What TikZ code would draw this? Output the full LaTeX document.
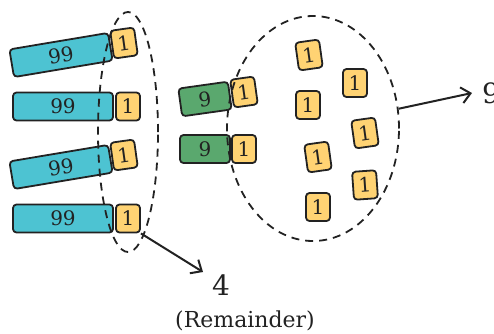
\documentclass[tikz,border=0pt]{standalone}
\usepackage{fontspec}
\setmainfont{DejaVu Serif}
\usetikzlibrary{shapes.geometric,arrows.meta}
\definecolor{cyanbox}{RGB}{77,195,210}
\definecolor{greenbox}{RGB}{90,168,110}
\definecolor{yellowbox}{RGB}{255,211,115}
\definecolor{ink}{RGB}{34,34,34}
\tikzset{
  x=1pt,y=-1pt,
  box/.style={draw=ink,line width=1.8pt,rounded corners=3.5pt,inner sep=0pt,font=\fontsize{20}{22}\selectfont,text=ink},
  cbox/.style={box,fill=cyanbox,minimum width=100pt,minimum height=28pt},
  gbox/.style={box,fill=greenbox,minimum width=50pt,minimum height=28pt},
  ybox/.style={box,fill=yellowbox,minimum width=24pt,minimum height=28pt},
  group/.style={ellipse,draw=ink,line width=1.8pt,dash pattern=on 8pt off 6pt},
  arr/.style={draw=ink,line width=2pt,-{Straight Barb[length=9pt,width=16pt,line width=2pt]}},
  lbl/.style={text=ink,inner sep=0pt}
}
\begin{document}
\begin{tikzpicture}
\useasboundingbox (0,0) rectangle (494,333);
% left column
\node[cbox,rotate=9.5] (c1) at (61,55) {99};
\node[ybox,rotate=8] (y1) at (124,43) {1};
\node[cbox] (c2) at (63,106.5) {99};
\node[ybox] (y2) at (128,106.5) {1};
\node[cbox,rotate=9.5] (c3) at (61,167) {99};
\node[ybox,rotate=8] (y3) at (124,155) {1};
\node[cbox] (c4) at (63,218.5) {99};
\node[ybox] (y4) at (128,218.5) {1};
% green
\node[gbox,rotate=8] (g1) at (205,99) {9};
\node[ybox,rotate=8] (gy1) at (244,92) {1};
\node[gbox] (g2) at (205,149) {9};
\node[ybox] (gy2) at (244,149) {1};
% ones inside right group
\node[ybox,rotate=8] (r1) at (309,55) {1};
\node[ybox] (r2) at (355,83) {1};
\node[ybox] (r3) at (308,105) {1};
\node[ybox,rotate=8] (r4) at (365,133) {1};
\node[ybox,rotate=8] (r5) at (318,157) {1};
\node[ybox,rotate=4] (r6) at (365,185) {1};
\node[ybox] (r7) at (318,207) {1};
% groups
\node[group,minimum width=60pt,minimum height=240pt] (e1) at (128,132) {};
\node[group,minimum width=172pt,minimum height=225pt] (e2) at (313,128.5) {};
% labels
\node[lbl,font=\fontsize{28}{30}\selectfont] (n4) at (221,285) {4};
\node[lbl,font=\fontsize{22}{24}\selectfont] (rem) at (245,321) {(Remainder)};
\node[lbl,font=\fontsize{28}{30}\selectfont,anchor=west] (n9) at (482,93) {9};
\coordinate (a4) at (203,272);
\coordinate (a9) at (472,93);
\draw[arr] (y4.south east) -- (a4);
\draw[arr] (e2.13) -- (a9);
\end{tikzpicture}
\end{document}
